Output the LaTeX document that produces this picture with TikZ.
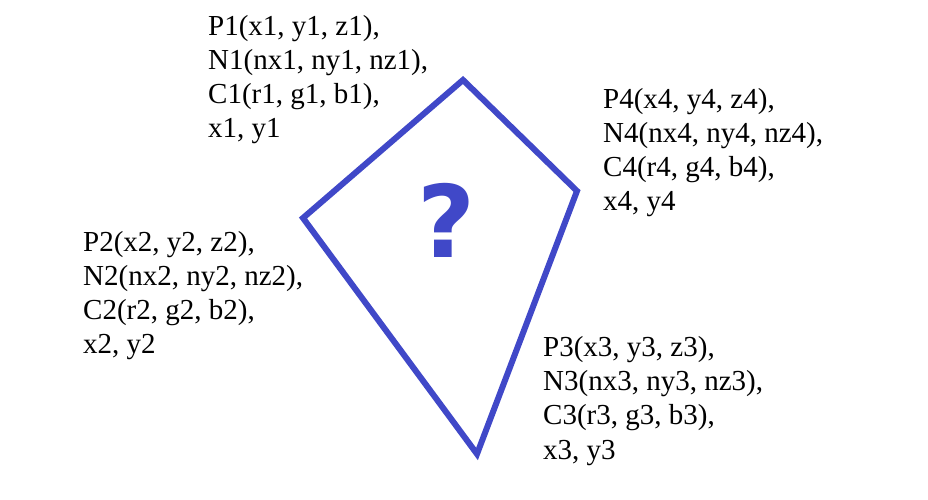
\documentclass[tikz,border=0pt]{standalone}
\usepackage{fontspec}
\setmainfont{Liberation Serif}
\newfontfamily\qfont{DejaVu Sans}
\definecolor{kiteblue}{RGB}{64,72,200}
\begin{document}
\begin{tikzpicture}[x=1bp,y=-1bp,
  lbl/.style={anchor=base west,inner sep=0pt,align=left,text=black,
    font=\fontsize{29bp}{34.3bp}\selectfont},
  edge/.style={draw=kiteblue,line width=6bp,line join=miter}]
\useasboundingbox[fill=white] (0,0) rectangle (928,500);
\coordinate (v1) at (463,80);
\coordinate (v2) at (303,218);
\coordinate (v3) at (477,454);
\coordinate (v4) at (577,191);
\draw[edge] (v1) -- (v2) -- (v3) -- (v4) -- cycle;
\node[text=kiteblue,font=\qfont\bfseries\fontsize{100bp}{110bp}\selectfont,inner sep=0pt] (q) at (446,220) {?};
\node[lbl] (t1) at (208,138) {P1(x1, y1, z1),\\N1(nx1, ny1, nz1),\\C1(r1, g1, b1),\\x1, y1};
\node[lbl] (t4) at (603,211) {P4(x4, y4, z4),\\N4(nx4, ny4, nz4),\\C4(r4, g4, b4),\\x4, y4};
\node[lbl] (t2) at (83,354) {P2(x2, y2, z2),\\N2(nx2, ny2, nz2),\\C2(r2, g2, b2),\\x2, y2};
\node[lbl] (t3) at (543,459) {P3(x3, y3, z3),\\N3(nx3, ny3, nz3),\\C3(r3, g3, b3),\\x3, y3};
\end{tikzpicture}
\end{document}
